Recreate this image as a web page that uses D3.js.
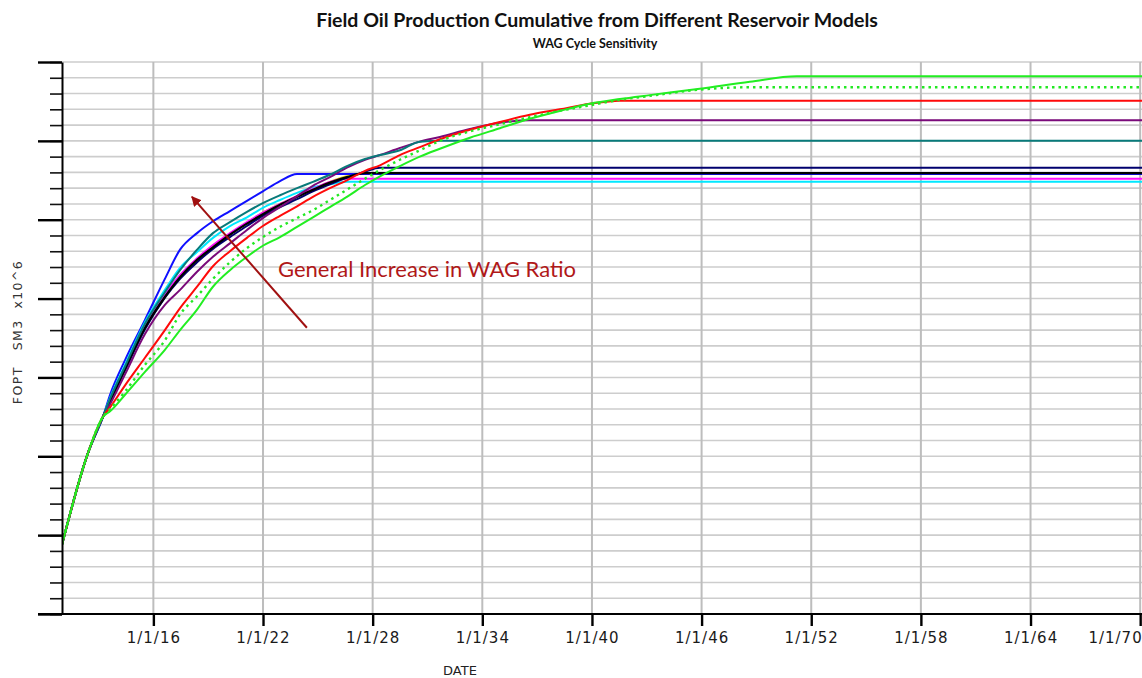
<!DOCTYPE html>
<html>
<head>
<meta charset="utf-8">
<script src="https://cdn.jsdelivr.net/npm/d3@7"></script>
<style>
  body { margin: 0; background: #fff; }
  svg { display: block; }
</style>
</head>
<body>
<svg id="chart" width="1142" height="678"></svg>
<script>
// dates as decimal years, FOPT in SM3 x10^6 (axis has no numbers, scale read as 7 major divisions)
const years = [2011.00, 2012.42, 2013.24, 2013.63, 2014.45, 2015.54, 2016.63, 2017.46, 2018.39, 2019.26,
  2020.19, 2021.12, 2021.99, 2022.93, 2023.86, 2024.73, 2025.66, 2026.59, 2027.58, 2028.40,
  2029.49, 2030.58, 2031.68, 2033.32, 2034.96, 2036.60, 2038.24, 2039.88, 2041.53, 2043.17,
  2045.90, 2048.64, 2051.21, 2070.10];

const yellowValues = [0.88, 2.04, 2.50, 2.71, 3.12, 3.64, 4.03, 4.29, 4.50, 4.67, 4.82, 4.96, 5.09, 5.20, 5.30, 5.39, 5.48, 5.55,
  5.59, 5.59, 5.59, 5.59, 5.59, 5.59, 5.59, 5.59, 5.59, 5.59, 5.59, 5.59, 5.59, 5.59, 5.59, 5.59];
const greyValues = [0.88, 2.04, 2.50, 2.70, 3.11, 3.63, 4.03, 4.28, 4.50, 4.66, 4.81, 4.95, 5.08, 5.19, 5.29, 5.38, 5.47, 5.54,
  5.59, 5.59, 5.59, 5.59, 5.59, 5.59, 5.59, 5.59, 5.59, 5.59, 5.59, 5.59, 5.59, 5.59, 5.59, 5.59];
const blueValues = [0.88, 2.04, 2.50, 2.78, 3.22, 3.73, 4.25, 4.62, 4.83, 4.98, 5.11, 5.24, 5.36, 5.49,
  5.58, 5.58, 5.58, 5.58, 5.58, 5.58, 5.58, 5.58, 5.58, 5.58, 5.58, 5.58, 5.58, 5.58, 5.58, 5.58, 5.58, 5.58, 5.58, 5.58];
const cyanValues = [0.88, 2.04, 2.50, 2.74, 3.16, 3.70, 4.11, 4.39, 4.59, 4.77, 4.92, 5.03, 5.15, 5.25, 5.34, 5.41, 5.45,
  5.48, 5.48, 5.48, 5.48, 5.48, 5.48, 5.48, 5.48, 5.48, 5.48, 5.48, 5.48, 5.48, 5.48, 5.48, 5.48, 5.48];
const magentaValues = [0.88, 2.04, 2.50, 2.71, 3.12, 3.64, 4.05, 4.30, 4.51, 4.68, 4.83, 4.97, 5.09, 5.20, 5.30, 5.39, 5.48,
  5.52, 5.52, 5.52, 5.52, 5.52, 5.52, 5.52, 5.52, 5.52, 5.52, 5.52, 5.52, 5.52, 5.52, 5.52, 5.52, 5.52];
const navyValues = [0.88, 2.04, 2.50, 2.69, 3.09, 3.61, 4.01, 4.25, 4.46, 4.63, 4.78, 4.92, 5.05, 5.16, 5.26, 5.36, 5.45, 5.53, 5.61,
  5.66, 5.66, 5.66, 5.66, 5.66, 5.66, 5.66, 5.66, 5.66, 5.66, 5.66, 5.66, 5.66, 5.66, 5.66];
const blackValues = [0.88, 2.04, 2.50, 2.70, 3.11, 3.63, 4.02, 4.27, 4.49, 4.65, 4.81, 4.95, 5.07, 5.19, 5.29, 5.38, 5.47, 5.54,
  5.59, 5.59, 5.59, 5.59, 5.59, 5.59, 5.59, 5.59, 5.59, 5.59, 5.59, 5.59, 5.59, 5.59, 5.59, 5.59];
const purpleValues = [0.88, 2.04, 2.50, 2.66, 3.04, 3.55, 3.92, 4.11, 4.34, 4.53, 4.70, 4.87, 5.02, 5.16, 5.30, 5.43, 5.54, 5.66,
  5.76, 5.82, 5.91, 5.99, 6.05, 6.15, 6.23, 6.26, 6.26, 6.26, 6.26, 6.26, 6.26, 6.26, 6.26, 6.26];
const tealValues = [0.88, 2.04, 2.50, 2.73, 3.14, 3.68, 4.08, 4.36, 4.62, 4.83, 4.97, 5.10, 5.21, 5.31, 5.40, 5.48, 5.57, 5.68,
  5.77, 5.82, 5.88, 5.99, 6.00, 6.00, 6.00, 6.00, 6.00, 6.00, 6.00, 6.00, 6.00, 6.00, 6.00, 6.00];
const redValues = [0.88, 2.04, 2.50, 2.62, 2.90, 3.25, 3.60, 3.88, 4.15, 4.41, 4.60, 4.77, 4.92, 5.05, 5.17, 5.29, 5.40, 5.50,
  5.62, 5.69, 5.82, 5.92, 6.02, 6.14, 6.24, 6.33, 6.40, 6.47, 6.51, 6.51, 6.51, 6.51, 6.51, 6.51];
const greenDotValues = [0.88, 2.04, 2.50, 2.60, 2.82, 3.16, 3.47, 3.80, 4.03, 4.25, 4.46, 4.64, 4.78, 4.91, 5.02, 5.12, 5.25, 5.38,
  5.52, 5.63, 5.76, 5.88, 6.00, 6.12, 6.21, 6.30, 6.38, 6.45, 6.52, 6.57, 6.65, 6.68, 6.68, 6.68];
const greenValues = [0.88, 2.04, 2.50, 2.57, 2.78, 3.07, 3.35, 3.60, 3.86, 4.15, 4.36, 4.53, 4.67, 4.78, 4.91, 5.03, 5.16, 5.29,
  5.44, 5.55, 5.68, 5.80, 5.90, 6.04, 6.16, 6.28, 6.38, 6.47, 6.53, 6.58, 6.66, 6.75, 6.82, 6.82];

const xTickYears = [2016, 2022, 2028, 2034, 2040, 2046, 2052, 2058, 2064, 2070];
const xTickLabels = ["1/1/16", "1/1/22", "1/1/28", "1/1/34", "1/1/40", "1/1/46", "1/1/52", "1/1/58", "1/1/64", "1/1/70"];

// draw order matters for the overlapping plateaus
const series = [
  { name: "yellow", values: yellowValues, color: "#e2d400", dash: null, width: 2 },
  { name: "grey", values: greyValues, color: "#5a5a3a", dash: "3,2", width: 1.8 },
  { name: "blue", values: blueValues, color: "#1010ff", dash: null, width: 2 },
  { name: "cyan", values: cyanValues, color: "#00e8ff", dash: null, width: 2 },
  { name: "magenta", values: magentaValues, color: "#ff10ff", dash: null, width: 2 },
  { name: "navy", values: navyValues, color: "#00006e", dash: null, width: 2 },
  { name: "black", values: blackValues, color: "#000000", dash: null, width: 2.2 },
  { name: "purple", values: purpleValues, color: "#7a0a7a", dash: null, width: 2 },
  { name: "teal", values: tealValues, color: "#087a7a", dash: null, width: 2 },
  { name: "red", values: redValues, color: "#ff0a0a", dash: null, width: 2 },
  { name: "greenDot", values: greenDotValues, color: "#22e822", dash: "2.5,4", width: 2.4 },
  { name: "green", values: greenValues, color: "#22ee22", dash: null, width: 2 },
];

const annotationText = "General Increase in WAG Ratio";
const arrowFrom = [2024.40, 3.63];
const arrowTo = [2018.11, 5.29];
const textAt = [2022.82, 4.27];

/* Set up */
const svg = d3.select("#chart");
const margin = { top: 62, right: 0, bottom: 64, left: 62 };
const width = +svg.attr("width");
const height = +svg.attr("height");

const x = d3.scaleLinear().domain([2011, 2070.1]).range([margin.left, width - margin.right]);
const y = d3.scaleLinear().domain([0, 7]).range([height - margin.bottom, margin.top]);

const majorTicks = y.ticks(7);
const minorTicks = y.ticks(35);

// grid
svg.append("g")
  .selectAll("line")
  .data(minorTicks)
  .join("line")
  .attr("x1", x.range()[0]).attr("x2", x.range()[1])
  .attr("y1", d => y(d)).attr("y2", d => y(d))
  .attr("stroke", "#cdcdcd")
  .attr("stroke-width", 1.6);

svg.append("g")
  .selectAll("line")
  .data(xTickYears)
  .join("line")
  .attr("x1", d => x(d)).attr("x2", d => x(d))
  .attr("y1", y.range()[0]).attr("y2", y.range()[1])
  .attr("stroke", "#bdbdbd")
  .attr("stroke-width", 2);

// curves
const line = d3.line()
  .x(d => x(d[0]))
  .y(d => y(d[1]))
  .curve(d3.curveMonotoneX);

svg.append("clipPath").attr("id", "plot")
  .append("rect")
  .attr("x", x.range()[0]).attr("y", y.range()[1] - 4)
  .attr("width", x.range()[1] - x.range()[0])
  .attr("height", y.range()[0] - y.range()[1] + 4);

svg.append("g")
  .attr("clip-path", "url(#plot)")
  .selectAll("path")
  .data(series)
  .join("path")
  .attr("d", s => line(years.map((yr, i) => [yr, s.values[i]])))
  .attr("fill", "none")
  .attr("stroke", s => s.color)
  .attr("stroke-width", s => s.width)
  .attr("stroke-dasharray", s => s.dash)
  .attr("stroke-linejoin", "round");

// axes
const yAxisMajor = d3.axisLeft(y).tickValues(majorTicks).tickSize(24).tickSizeOuter(0).tickFormat("");
const yAxisMinor = d3.axisLeft(y).tickValues(minorTicks).tickSize(12).tickSizeOuter(0).tickFormat("");

const gyMinor = svg.append("g").attr("transform", `translate(${x.range()[0]},0)`).call(yAxisMinor);
gyMinor.selectAll(".tick line").attr("stroke", "#111").attr("stroke-width", 1.6);
gyMinor.select(".domain").remove();

const gyMajor = svg.append("g").attr("transform", `translate(${x.range()[0]},0)`).call(yAxisMajor);
gyMajor.selectAll(".tick line").attr("stroke", "#000").attr("stroke-width", 2.4);
gyMajor.select(".domain").attr("stroke", "#000").attr("stroke-width", 2);

const xAxis = d3.axisBottom(x)
  .tickValues(xTickYears)
  .tickFormat((d, i) => xTickLabels[i])
  .tickSize(12)
  .tickSizeOuter(0)
  .tickPadding(6);

const gx = svg.append("g").attr("transform", `translate(0,${y.range()[0]})`).call(xAxis);
gx.select(".domain").remove();
gx.selectAll(".tick line").attr("stroke", "#000").attr("stroke-width", 2.4);
gx.selectAll(".tick text")
  .attr("font-family", "DejaVu Sans")
  .attr("font-size", 15)
  .attr("letter-spacing", 1)
  .attr("fill", "#1a1a1a")
  .filter((d, i, n) => i === n.length - 1)
  .attr("text-anchor", "end")
  .attr("dx", 2);

svg.append("line")
  .attr("x1", x.range()[0] - 24).attr("x2", x.range()[1])
  .attr("y1", y.range()[0]).attr("y2", y.range()[0])
  .attr("stroke", "#000").attr("stroke-width", 2.2);

// axis titles
svg.append("text")
  .attr("x", 460).attr("y", 675)
  .attr("text-anchor", "middle")
  .attr("font-family", "DejaVu Sans")
  .attr("font-size", 13)
  .attr("fill", "#222")
  .text("DATE");

svg.append("text")
  .attr("transform", "translate(22,332) rotate(-90)")
  .attr("text-anchor", "middle")
  .attr("font-family", "DejaVu Sans")
  .attr("font-size", 12.5)
  .attr("letter-spacing", 1.4)
  .attr("fill", "#333")
  .attr("xml:space", "preserve")
  .text("FOPT   SM3  x10^6");

// title
svg.append("text")
  .attr("x", 597).attr("y", 27)
  .attr("text-anchor", "middle")
  .attr("font-family", "Lato, 'Open Sans', sans-serif")
  .attr("font-weight", "bold")
  .attr("font-size", 19.5)
  .attr("fill", "#111")
  .text("Field Oil Production Cumulative from Different Reservoir Models");

svg.append("text")
  .attr("x", 595).attr("y", 48)
  .attr("text-anchor", "middle")
  .attr("font-family", "Lato, 'Open Sans', sans-serif")
  .attr("font-weight", "bold")
  .attr("font-size", 12.5)
  .attr("fill", "#111")
  .text("WAG Cycle Sensitivity");

// annotation arrow
svg.append("defs").append("marker")
  .attr("id", "head")
  .attr("viewBox", "0 0 10 10")
  .attr("refX", 9).attr("refY", 5)
  .attr("markerWidth", 5).attr("markerHeight", 5)
  .attr("orient", "auto")
  .append("path")
  .attr("d", "M0,0L10,5L0,10Z")
  .attr("fill", "#a01010");

svg.append("line")
  .attr("x1", x(arrowFrom[0])).attr("y1", y(arrowFrom[1]))
  .attr("x2", x(arrowTo[0])).attr("y2", y(arrowTo[1]))
  .attr("stroke", "#a01010")
  .attr("stroke-width", 2)
  .attr("marker-end", "url(#head)");

svg.append("text")
  .attr("x", x(textAt[0])).attr("y", y(textAt[1]))
  .attr("font-family", "Lato, 'Open Sans', sans-serif")
  .attr("font-size", 22)
  .attr("fill", "#b01818")
  .text(annotationText);
</script>
</body>
</html>
